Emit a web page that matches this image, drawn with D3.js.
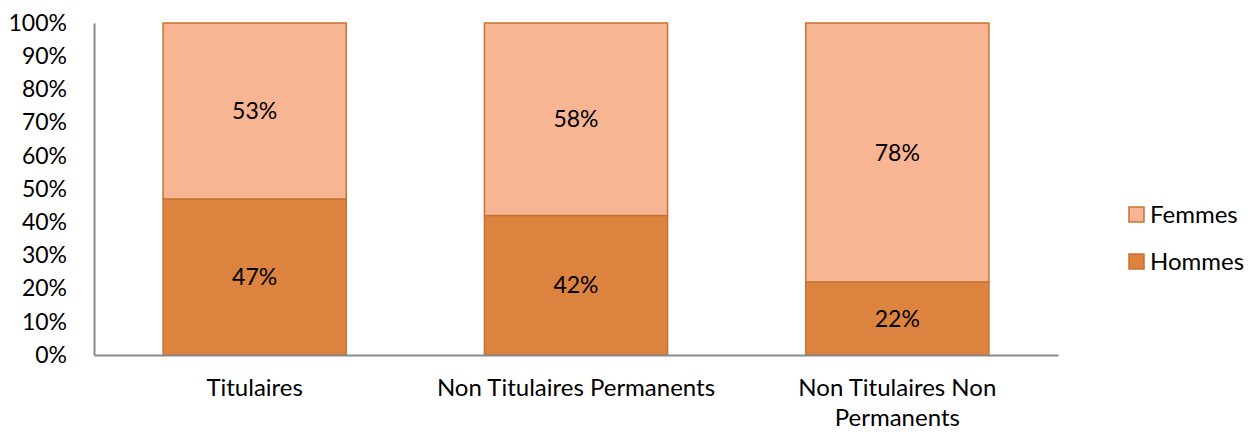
<!DOCTYPE html>
<html>
<head>
<meta charset="utf-8">
<script src="https://cdn.jsdelivr.net/npm/d3@7"></script>
<style>
  body { margin: 0; padding: 0; background: #fff; }
  text { font-family: Lato, "Open Sans", sans-serif; fill: #000; }
</style>
</head>
<body>
<svg id="chart" width="1251" height="432"></svg>
<script>
var categories = ["Titulaires", "Non Titulaires Permanents", "Non Titulaires Non Permanents"];
var hommes = [47, 42, 22];
var femmes = [53, 58, 78];
var seriesNames = ["Hommes", "Femmes"];
var colors = { Hommes: "#dc843f", Femmes: "#f8b593" };
var yTicks = [0, 10, 20, 30, 40, 50, 60, 70, 80, 90, 100];

var svg = d3.select("#chart");
var margin = { left: 94, right: 193, top: 23, bottom: 77 };
var w = 1251 - margin.left - margin.right;
var h = 432 - margin.top - margin.bottom;
var g = svg.append("g").attr("transform", "translate(" + margin.left + "," + margin.top + ")");

var x = d3.scaleBand().domain(categories).range([0, w]).paddingInner(0.43).paddingOuter(0.215);
var y = d3.scaleLinear().domain([0, 100]).range([h, 0]);

var rows = categories.map(function(c, i) { return { cat: c, Hommes: hommes[i], Femmes: femmes[i] }; });
var stacked = d3.stack().keys(seriesNames)(rows);

var layers = g.selectAll("g.layer").data(stacked).enter().append("g")
  .attr("class", "layer")
  .attr("fill", function(d) { return colors[d.key]; });

layers.selectAll("rect").data(function(d) { return d; }).enter().append("rect")
  .attr("x", function(d) { return x(d.data.cat); })
  .attr("width", x.bandwidth())
  .attr("y", function(d) { return y(d[1]); })
  .attr("height", function(d) { return y(d[0]) - y(d[1]); })
  .attr("stroke", "#c87232")
  .attr("stroke-width", 1.5);

layers.selectAll("text").data(function(d) { return d; }).enter().append("text")
  .attr("x", function(d) { return x(d.data.cat) + x.bandwidth() / 2; })
  .attr("y", function(d) { return (y(d[0]) + y(d[1])) / 2; })
  .attr("dy", "0.35em")
  .attr("text-anchor", "middle")
  .style("font-size", "23px")
  .text(function(d) { return (d[1] - d[0]) + "%"; });

// y axis
var yAxis = g.append("g").call(d3.axisLeft(y).tickValues(yTicks).tickSize(0).tickPadding(27)
  .tickFormat(function(d) { return d + "%"; }));
yAxis.select(".domain").attr("stroke", "#898989").attr("stroke-width", 2);
yAxis.selectAll("text").style("font-size", "23px").style("font-family", "Lato, 'Open Sans', sans-serif").attr("fill", "#000");

// x axis
var xAxis = g.append("g").attr("transform", "translate(0," + h + ")")
  .call(d3.axisBottom(x).tickSize(0).tickPadding(0));
xAxis.select(".domain").attr("stroke", "#898989").attr("stroke-width", 2);
xAxis.selectAll("text").remove();

var labelLines = { "Titulaires": ["Titulaires"], "Non Titulaires Permanents": ["Non Titulaires Permanents"],
  "Non Titulaires Non Permanents": ["Non Titulaires Non", "Permanents"] };
categories.forEach(function(c) {
  var t = g.append("text")
    .attr("x", x(c) + x.bandwidth() / 2)
    .attr("y", h + 41)
    .attr("text-anchor", "middle")
    .style("font-size", "24px");
  labelLines[c].forEach(function(line, i) {
    t.append("tspan").attr("x", x(c) + x.bandwidth() / 2).attr("dy", i === 0 ? 0 : 30).text(line);
  });
});

// legend
var legendItems = ["Femmes", "Hommes"];
var legend = svg.append("g").attr("transform", "translate(1129,207)");
legendItems.forEach(function(k, i) {
  var item = legend.append("g").attr("transform", "translate(0," + (i * 47) + ")");
  item.append("rect").attr("width", 15).attr("height", 15)
    .attr("fill", colors[k]).attr("stroke", "#c87232").attr("stroke-width", 1.5);
  item.append("text").attr("x", 21).attr("y", 8).attr("dy", "0.35em")
    .style("font-size", "24px").text(k);
});
</script>
</body>
</html>
